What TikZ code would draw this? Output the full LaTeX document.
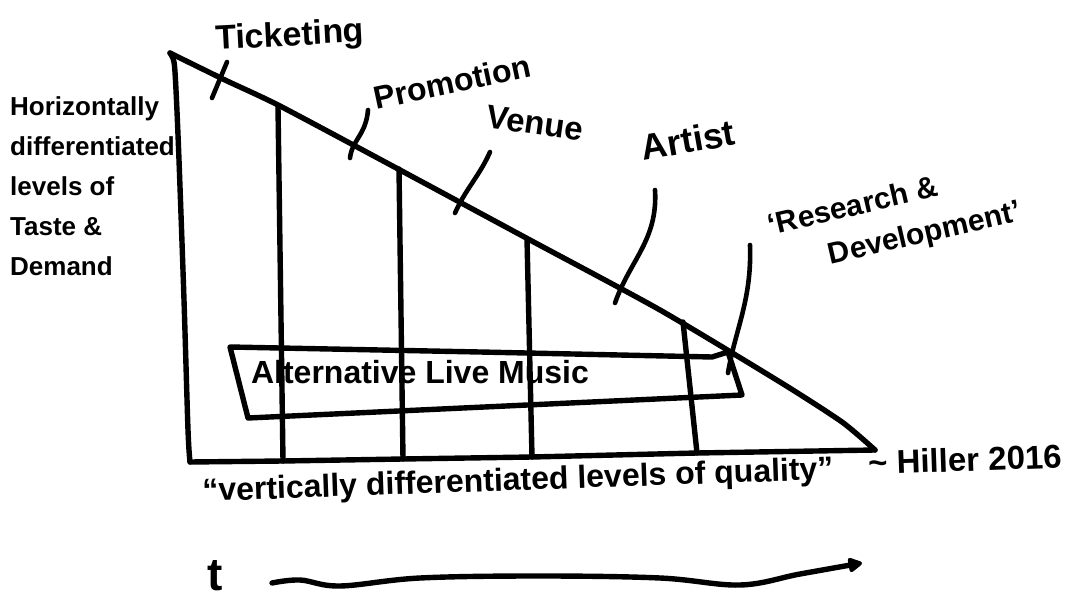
\documentclass[tikz,border=0pt]{standalone}
\usepackage{fontspec}
\setmainfont{Liberation Sans}
\usepackage{tikz}
\usetikzlibrary{arrows.meta, positioning, calc}

\newcommand{\fsz}[1]{\fontsize{#1}{1.2\dimexpr #1pt\relax}\selectfont\bfseries}

\begin{document}
\begin{tikzpicture}[
    x=1pt, y=-1pt,
    sketch/.style={line width=5.4pt, line cap=round, line join=round},
    leader/.style={line width=4.6pt, line cap=round},
    textlabel/.style={inner sep=0pt, font=\fsz{32}},
    timearrow/.style={sketch, -{Triangle[length=16pt, width=16pt, round]}}
]
    \useasboundingbox (0,0) rectangle (1079,604);
    \fill[white] (0,0) rectangle (1079,604);

    % --- Triangle ---
    \coordinate (apex) at (170,53);
    \coordinate (corner) at (190,462);
    \coordinate (tip) at (875,450);

    \draw[sketch] plot[smooth, tension=0.5] coordinates {(apex) (174,62) (176,90) (179,160) (184,300) (188,430) (corner)};
    \draw[sketch] (corner) -- (283,461) -- (403,459) -- (532,457) -- (697,453) -- (tip);
    \draw[sketch] plot[smooth, tension=0.4] coordinates {(apex) (225,80) (280,106) (400,170) (530,240) (660,310) (780,382) (842,422) (tip)};

    % --- Dividers ---
    \foreach \n/\xa/\ya/\xb/\yb in {1/278/107/283/461, 2/399/169/403/459, 3/527/239/532/457, 4/683/322/697/453} {
        \coordinate (top\n) at (\xa,\ya);
        \coordinate (bot\n) at (\xb,\yb);
        \draw[sketch] (top\n) -- (bot\n);
    }

    % --- Alternative Live Music ---
    \node[textlabel, font=\fsz{32}] (alm) at (420,372) {Alternative Live Music};
    \draw[sketch] (230,347) -- (480,352) -- (712,357) -- (728,352) -- (742,395) -- (248,418) -- cycle;

    % --- Labels ---
    \node[textlabel, font=\fsz{34}, rotate=3] (ticketing) at (290,37) {Ticketing};
    \node[textlabel, rotate=12] (promotion) at (452,82) {Promotion};
    \node[textlabel, font=\fsz{33}, rotate=-8] (venue) at (535,123) {Venue};
    \node[textlabel, font=\fsz{36}, rotate=10] (artist) at (688,140) {Artist};
    \node[textlabel, font=\fsz{30}, align=left, rotate=13] (rnd) at (895,220)
        {`Research \&\\[6pt] \hspace*{52pt}Development'};

    \node[textlabel, font=\fontsize{26}{40}\selectfont\bfseries, align=left, anchor=west] (taste) at (10,186)
        {Horizontally\\ differentiated\\ levels of\\ Taste \&\\ Demand};

    \node[textlabel, rotate=2] (quality) at (518,482) {``vertically differentiated levels of quality''};
    \node[textlabel, font=\fsz{33}, anchor=west, rotate=2] (hiller) at (868,463) {\textasciitilde\ Hiller 2016};

    % --- Leaders ---
    \coordinate (tick-a) at (227,62);   \coordinate (tick-b) at (212,98);
    \coordinate (prom-a) at (368,110);  \coordinate (prom-b) at (350,158);
    \coordinate (venue-a) at (490,152); \coordinate (venue-b) at (455,213);
    \coordinate (art-a) at (655,190);   \coordinate (art-b) at (615,303);
    \coordinate (rd-a) at (750,245);    \coordinate (rd-b) at (728,373);

    \draw[leader] (tick-a) -- (tick-b);
    \draw[leader] (prom-a) .. controls (366,135) and (352,140) .. (prom-b);
    \draw[leader] (venue-a) .. controls (480,175) and (465,190) .. (venue-b);
    \draw[leader] (art-a) .. controls (658,240) and (630,260) .. (art-b);
    \draw[leader] (rd-a) .. controls (752,300) and (735,330) .. (rd-b);

    % --- Time ---
    \node[textlabel, font=\fsz{46}] (tlabel) at (215,576) {t};
    \coordinate (tstart) at (272,583);
    \coordinate (tend) at (862,563);
    \draw[timearrow] plot[smooth, tension=0.6] coordinates {(tstart) (300,580) (340,586) (420,578) (540,576) (660,578) (740,585) (800,574) (tend)};

\end{tikzpicture}
\end{document}
